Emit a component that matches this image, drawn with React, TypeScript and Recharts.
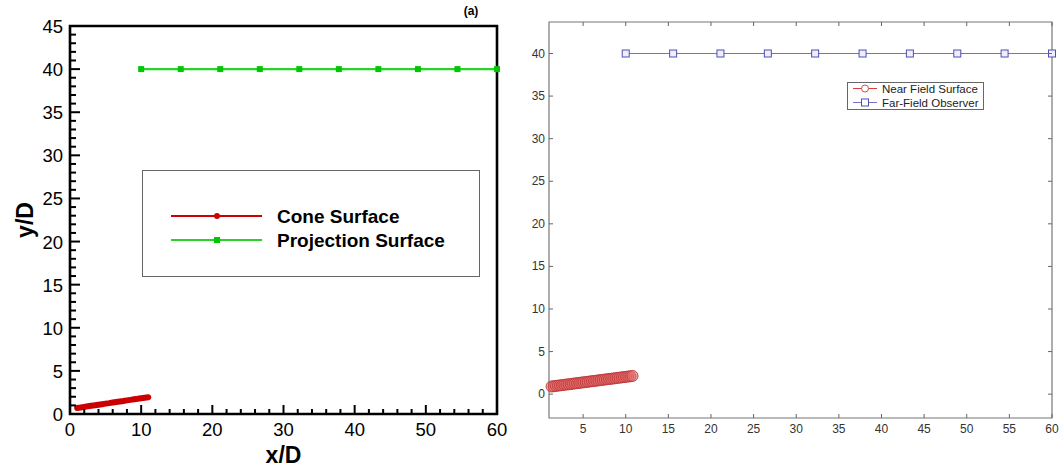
import React from 'react';
import { LineChart, Line, XAxis, YAxis, ReferenceArea, Legend } from 'recharts';

const FONT = '"Liberation Sans", Arial, Helvetica, sans-serif';

// left panel (a): cone surface + projection surface
const coneX = [1, 1.5, 2, 2.5, 3, 3.5, 4, 4.5, 5, 5.5, 6, 6.5, 7, 7.5, 8, 8.5, 9, 9.5, 10, 10.5, 11];
const coneY = [0.7, 0.76, 0.83, 0.89, 0.95, 1.01, 1.08, 1.14, 1.2, 1.26, 1.33, 1.39, 1.45, 1.51, 1.58, 1.64, 1.7, 1.76, 1.83, 1.89, 1.95];
const projX = [10, 15.56, 21.11, 26.67, 32.22, 37.78, 43.33, 48.89, 54.44, 60];
const projY = [40, 40, 40, 40, 40, 40, 40, 40, 40, 40];

// right panel: near field surface + far-field observer
const nearX = [1.3, 1.55, 1.8, 2.05, 2.3, 2.55, 2.8, 3.05, 3.3, 3.55, 3.8, 4.05, 4.3, 4.55, 4.8, 5.05, 5.3, 5.55, 5.8, 6.05, 6.3, 6.55, 6.8, 7.05, 7.3, 7.55, 7.8, 8.05, 8.3, 8.55, 8.8, 9.05, 9.3, 9.55, 9.8, 10.05, 10.3, 10.55, 10.8];
const nearY = [0.9, 0.93, 0.97, 1.0, 1.03, 1.06, 1.1, 1.13, 1.16, 1.19, 1.23, 1.26, 1.29, 1.32, 1.36, 1.39, 1.42, 1.45, 1.49, 1.52, 1.55, 1.58, 1.62, 1.65, 1.68, 1.71, 1.75, 1.78, 1.81, 1.84, 1.88, 1.91, 1.94, 1.97, 2.01, 2.04, 2.07, 2.1, 2.14];
const farX = [10, 15.56, 21.11, 26.67, 32.22, 37.78, 43.33, 48.89, 54.44, 60];
const farY = [40, 40, 40, 40, 40, 40, 40, 40, 40, 40];

const leftXTicks = [0, 2, 4, 6, 8, 10, 12, 14, 16, 18, 20, 22, 24, 26, 28, 30, 32, 34, 36, 38, 40, 42, 44, 46, 48, 50, 52, 54, 56, 58, 60];
const leftYTicks = [0, 1, 2, 3, 4, 5, 6, 7, 8, 9, 10, 11, 12, 13, 14, 15, 16, 17, 18, 19, 20, 21, 22, 23, 24, 25, 26, 27, 28, 29, 30, 31, 32, 33, 34, 35, 36, 37, 38, 39, 40, 41, 42, 43, 44, 45];
const rightXTicks = [5, 10, 15, 20, 25, 30, 35, 40, 45, 50, 55, 60];
const rightYTicks = [0, 5, 10, 15, 20, 25, 30, 35, 40];

const leftNames = ['Cone Surface', 'Projection Surface'];
const rightNames = ['Near Field Surface', 'Far-Field Observer'];

const toPoints = (xs: number[], ys: number[]) => xs.map((x, i) => ({ x, y: ys[i] }));
const cone = toPoints(coneX, coneY);
const proj = toPoints(projX, projY);
const near = toPoints(nearX, nearY);
const far = toPoints(farX, farY);

// right panel plot box size (chart size minus margins / axis sizes), used for mirrored ticks
const R_PLOT_W = 540 - 29 - 8;
const R_PLOT_H = 469 - 22 - 51;

// ---- left panel ticks (pointing inward, minor + major)
const LeftXTick = (props: any) => {
  const { x, y, payload } = props;
  const major = payload.value % 10 === 0;
  return (
    <g>
      <line x1={x} x2={x} y1={y} y2={y - (major ? 9 : 5)} stroke="#000" strokeWidth={2} />
      {major && (
        <text x={x} y={y + 22} textAnchor="middle" fontSize={18.5} fontFamily={FONT} fill="#000">
          {payload.value}
        </text>
      )}
    </g>
  );
};

const LeftYTick = (props: any) => {
  const { x, y, payload } = props;
  const major = payload.value % 5 === 0;
  return (
    <g>
      <line x1={x} x2={x + (major ? 10 : 6)} y1={y} y2={y} stroke="#000" strokeWidth={2} />
      {major && (
        <text x={x - 7} y={y + 7} textAnchor="end" fontSize={18.5} fontFamily={FONT} fill="#000">
          {payload.value}
        </text>
      )}
    </g>
  );
};

// ---- right panel ticks, mirrored on top / right side of the box
const RBottomTick = (props: any) => {
  const { x, y, payload } = props;
  return (
    <g>
      <line x1={x} x2={x} y1={y} y2={y - 4} stroke="#666" strokeWidth={1} />
      <line x1={x} x2={x} y1={y - R_PLOT_H} y2={y - R_PLOT_H + 4} stroke="#666" strokeWidth={1} />
      <text x={x} y={y + 14.5} textAnchor="middle" fontSize={12} fontFamily={FONT} fill="#333">
        {payload.value}
      </text>
    </g>
  );
};
const RLeftTick = (props: any) => {
  const { x, y, payload } = props;
  return (
    <g>
      <line x1={x} x2={x + 4} y1={y} y2={y} stroke="#666" strokeWidth={1} />
      <line x1={x + R_PLOT_W} x2={x + R_PLOT_W - 4} y1={y} y2={y} stroke="#666" strokeWidth={1} />
      <text x={x - 4} y={y + 4} textAnchor="end" fontSize={12} fontFamily={FONT} fill="#333">
        {payload.value}
      </text>
    </g>
  );
};

const ordered = (payload: any[], names: string[]) =>
  names.map((n) => (payload || []).find((p: any) => p.value === n)).filter(Boolean);

// ---- legends
const LeftLegend = (props: any) => {
  const items = ordered(props.payload, leftNames);
  return (
    <div style={{ width: 338, height: 107, border: '1.5px solid #666', background: '#fff', boxSizing: 'border-box' }}>
      <svg width={336} height={104}>
        {items.map((item: any, i: number) => {
          const cy = 45 + i * 24;
          return (
            <g key={item.value}>
              <line x1={28} x2={119} y1={cy} y2={cy} stroke={item.color} strokeWidth={2.2} />
              {i === 0 ? (
                <circle cx={74} cy={cy} r={3} fill={item.color} />
              ) : (
                <rect x={71} y={cy - 3} width={6} height={6} fill="#00c800" />
              )}
              <text x={134} y={cy + 7} fontSize={19} fontWeight="bold" fontFamily={FONT} fill="#000">
                {item.value}
              </text>
            </g>
          );
        })}
      </svg>
    </div>
  );
};

const RightLegend = (props: any) => {
  const items = ordered(props.payload, rightNames);
  return (
    <div style={{ width: 137, height: 28, border: '1px solid #666', background: '#fff', boxSizing: 'border-box' }}>
      <svg width={135} height={26}>
        {items.map((item: any, i: number) => {
          const cy = 5.5 + i * 14;
          return (
            <g key={item.value}>
              <line x1={5} x2={29} y1={cy} y2={cy} stroke={item.color} strokeWidth={1} />
              {i === 0 ? (
                <circle cx={17} cy={cy} r={3.5} fill="#fff" stroke="#d05050" strokeWidth={1} />
              ) : (
                <rect x={13.5} y={cy - 3.5} width={7} height={7} fill="#fff" stroke="#5050b0" strokeWidth={1} />
              )}
              <text x={34} y={cy + 4} fontSize={11.5} fontFamily={FONT} fill="#222">
                {item.value}
              </text>
            </g>
          );
        })}
      </svg>
    </div>
  );
};

const SquareDot = (props: any) => {
  const { cx, cy, index } = props;
  return <rect key={index} x={cx - 3} y={cy - 3} width={6} height={6} fill="#00c800" />;
};
const OpenSquareDot = (props: any) => {
  const { cx, cy, index } = props;
  return <rect key={index} x={cx - 3.5} y={cy - 3.5} width={7} height={7} fill="#eeeeff" stroke="#5050b0" strokeWidth={1} />;
};
const CircleDot = (props: any) => {
  const { cx, cy, index } = props;
  return <circle key={index} cx={cx} cy={cy} r={5.5} fill="#e06a6a" fillOpacity={0.55} stroke="#c03838" strokeWidth={0.9} />;
};

export default function App() {
  return (
    <div style={{ position: 'absolute', left: 0, top: 0, width: 1060, height: 469, background: '#fff', fontFamily: FONT }}>
      <div style={{ position: 'absolute', left: 0, top: 0 }}>
        <LineChart width={520} height={469} margin={{ top: 26, right: 23, bottom: 0, left: 0 }}>
          <XAxis
            type="number"
            dataKey="x"
            domain={[0, 60]}
            ticks={leftXTicks}
            interval={0}
            height={55}
            tickSize={0}
            tickMargin={0}
            axisLine={false}
            tickLine={false}
            tick={<LeftXTick />}
            label={{ value: 'x/D', position: 'insideBottom', offset: 6, style: { fontSize: 23, fontWeight: 'bold', fill: '#000', fontFamily: FONT } }}
          />
          <YAxis
            type="number"
            dataKey="y"
            domain={[0, 45]}
            ticks={leftYTicks}
            interval={0}
            width={70}
            tickSize={0}
            tickMargin={0}
            axisLine={false}
            tickLine={false}
            tick={<LeftYTick />}
            label={{ value: 'y/D', angle: -90, position: 'insideLeft', offset: 25, style: { textAnchor: 'middle', fontSize: 23, fontWeight: 'bold', fill: '#000', fontFamily: FONT } }}
          />
          <ReferenceArea x1={0} x2={60} y1={0} y2={45} fill="none" stroke="#000" strokeWidth={2.6} />
          <Line data={cone} dataKey="y" name="Cone Surface" stroke="#cc0000" strokeWidth={6} strokeLinecap="round" dot={false} isAnimationActive={false} />
          <Line data={proj} dataKey="y" name="Projection Surface" stroke="#2ad22a" strokeWidth={2.2} dot={<SquareDot />} isAnimationActive={false} />
          <Legend
            layout="vertical"
            align="center"
            verticalAlign="middle"
            content={<LeftLegend />}
            wrapperStyle={{ left: 142, top: 170, width: 338, height: 107 }}
          />
        </LineChart>
        <div style={{ position: 'absolute', left: 458, top: 3, width: 26, textAlign: 'center', fontSize: 12, fontWeight: 'bold', lineHeight: '17px', color: '#000' }}>
          (a)
        </div>
      </div>

      <div style={{ position: 'absolute', left: 520, top: 0 }}>
        <LineChart width={540} height={469} margin={{ top: 22, right: 8, bottom: 0, left: 0 }}>
          <XAxis
            type="number"
            dataKey="x"
            domain={[1, 60]}
            ticks={rightXTicks}
            interval={0}
            height={51}
            tickSize={0}
            tickMargin={0}
            tickLine={false}
            axisLine={false}
            tick={<RBottomTick />}
          />
          <YAxis
            type="number"
            dataKey="y"
            domain={[-2.8, 43.7]}
            ticks={rightYTicks}
            interval={0}
            width={29}
            tickSize={0}
            tickMargin={0}
            tickLine={false}
            axisLine={false}
            tick={<RLeftTick />}
          />
          <ReferenceArea x1={1} x2={60} y1={-2.8} y2={43.7} fill="none" stroke="#777" strokeWidth={1.2} />
          <Line data={near} dataKey="y" name="Near Field Surface" stroke="#d04040" strokeWidth={1} dot={<CircleDot />} isAnimationActive={false} />
          <Line data={far} dataKey="y" name="Far-Field Observer" stroke="#7272c8" strokeWidth={1} dot={<OpenSquareDot />} isAnimationActive={false} />
          <Legend
            layout="vertical"
            align="center"
            verticalAlign="middle"
            content={<RightLegend />}
            wrapperStyle={{ left: 327, top: 82, width: 137, height: 28 }}
          />
        </LineChart>
      </div>
    </div>
  );
}
